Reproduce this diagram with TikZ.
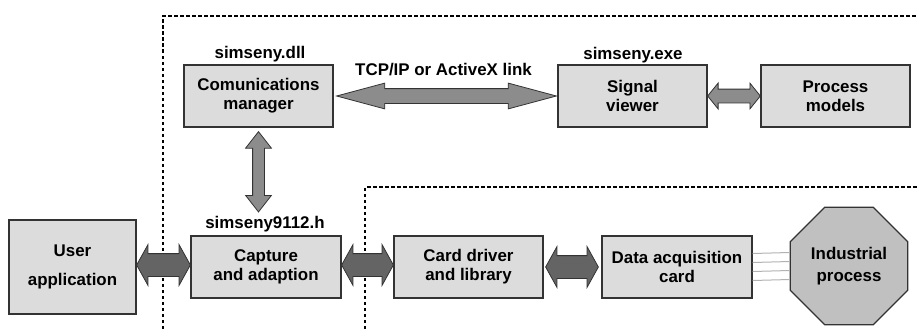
\documentclass[tikz,border=0pt]{standalone}
\usepackage{fontspec}
\setmainfont{Liberation Sans}
\usetikzlibrary{calc,shapes.geometric,shapes.arrows}

\definecolor{boxgray}{RGB}{220,220,220}
\definecolor{linkgray}{RGB}{140,140,140}
\definecolor{busgray}{RGB}{100,100,100}
\definecolor{plantgray}{RGB}{192,192,192}

\tikzset{
  block/.style={draw=black!80, line width=1.3pt, fill=boxgray, align=center,
    inner sep=0pt, minimum width=149pt, minimum height=62pt,
    font=\bfseries\fontsize{16.9}{19}\selectfont},
  tag/.style={inner sep=0pt, font=\bfseries\fontsize{16.9}{19}\selectfont},
  fatarrow/.style={double arrow, draw=black!80, line width=0.8pt, inner xsep=0pt},
  frame/.style={line width=2.4pt, dash pattern=on 3.5pt off 2.5pt}
}

% wide double arrow laid between two points
\newcommand{\fatlink}[3][]{%
  \path let \p1=(#2), \p2=(#3), \n1={veclen(\x2-\x1,\y2-\y1)},
    \n2={atan2(\y2-\y1,\x2-\x1)} in
    node[fatarrow, #1, minimum height=\n1, rotate=\n2] at ($(\p1)!0.5!(\p2)$) {};}

\begin{document}
\begin{tikzpicture}[x=1pt, y=-1pt]
\useasboundingbox (0,0) rectangle (917,329);

% Software boundaries
\draw[frame] (163,329) -- (163,16) -- (917,16);
\draw[frame] (365,329) -- (365,187) -- (917,187);

% Upper row
\node[block] (comm) at (258.5,96) {Comunications\\manager};
\node[block] (sigview) at (632.5,96) {Signal\\viewer};
\node[block] (procmod) at (835.5,96) {Process\\models};
\node[tag] (dlltag) at (260,54) {simseny.dll};
\node[tag] (exetag) at (633,55) {simseny.exe};
\node[tag] (linktag) at (443.5,70) {TCP/IP or ActiveX link};

% Lower row
\node[block, minimum width=127pt, minimum height=94pt,
  font=\bfseries\fontsize{16.9}{29}\selectfont] (user) at (72.5,267) {User\\application};
\node[block, minimum width=150pt] (capture) at (266,267) {Capture\\and adaption};
\node[block] (driver) at (468.5,267) {Card driver\\and library};
\node[block, minimum width=150pt] (daq) at (677,267) {Data acquisition\\card};
\node[regular polygon, regular polygon sides=8, draw=black!80, line width=1.3pt,
  fill=plantgray, minimum size=127pt, inner sep=0pt, align=center,
  font=\bfseries\fontsize{16.9}{22}\selectfont] (plant) at (849,266) {Industrial\\process};
\node[tag] (headertag) at (265,224) {simseny9112.h};

% Signal wires
\foreach \dy in {-13.5,-4.5,4.5,13.5}
  \draw[black!30, line width=1pt] ([yshift=\dy]daq.east) -- ([yshift=\dy]plant.west);

% Links
\fatlink[fill=linkgray, inner ysep=7pt, double arrow head extend=5.5pt,
  double arrow tip angle=30]{[xshift=3pt]comm.east}{[xshift=-1pt]sigview.west}
\fatlink[fill=linkgray, inner ysep=6.5pt, double arrow head extend=6pt,
  double arrow tip angle=102]{sigview.east}{procmod.west}
\fatlink[fill=linkgray, inner ysep=5.5pt, double arrow head extend=7pt,
  double arrow tip angle=76]{[yshift=-4pt]comm.south}{$(comm.south |- headertag.north)+(0,-4)$}
\fatlink[fill=busgray, inner ysep=11pt, double arrow head extend=9pt,
  double arrow tip angle=122]{[yshift=2pt]user.east}{[yshift=2pt]capture.west}
\fatlink[fill=busgray, inner ysep=11pt, double arrow head extend=9pt,
  double arrow tip angle=122]{[yshift=2pt]capture.east}{[yshift=2pt]driver.west}
\fatlink[fill=busgray, inner ysep=11pt, double arrow head extend=9pt,
  double arrow tip angle=122]{[xshift=2pt]driver.east}{[xshift=-3pt]daq.west}
\end{tikzpicture}
\end{document}
